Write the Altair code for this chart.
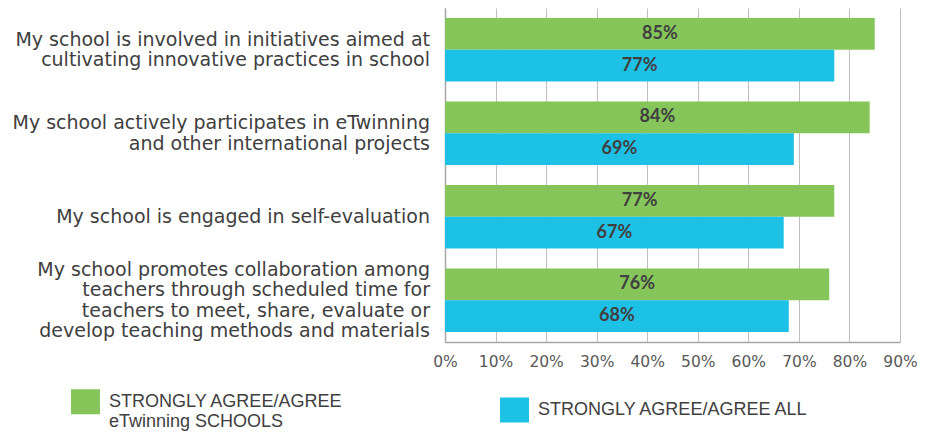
import altair as alt
import pandas as pd

categories = [
    "My school is involved in initiatives aimed at|cultivating innovative practices in school",
    "My school actively participates in eTwinning|and other international projects",
    "My school is engaged in self-evaluation",
    "My school promotes collaboration among|teachers through scheduled time for|teachers to meet, share, evaluate or|develop teaching methods and materials",
]
series = ["STRONGLY AGREE/AGREE|eTwinning SCHOOLS", "STRONGLY AGREE/AGREE ALL"]
etwinning_schools = [85, 84, 77, 76]
all_schools = [77, 69, 67, 68]
colors = ["#85C55A", "#1EC1E6"]
x_ticks = [0, 0.1, 0.2, 0.3, 0.4, 0.5, 0.6, 0.7, 0.8, 0.9]

rows = []
for i, c in enumerate(categories):
    rows.append({"category": c, "series": series[0], "value": etwinning_schools[i] / 100})
    rows.append({"category": c, "series": series[1], "value": all_schools[i] / 100})
df = pd.DataFrame(rows)

label_font = "DejaVu Sans"

y_enc = alt.Y(
    "category:N",
    sort=categories,
    scale=alt.Scale(paddingInner=0.238, paddingOuter=0.119),
    axis=alt.Axis(
        title=None,
        labels=False,
        ticks=False,
        domainColor="#A6A6A6",
        domainWidth=1.5,
        grid=False,
    ),
)

base = alt.Chart(df).encode(
    y=y_enc,
    yOffset=alt.YOffset("series:N", sort=series, scale=alt.Scale(paddingInner=0, paddingOuter=0)),
)

bars = base.mark_bar().encode(
    x=alt.X(
        "value:Q",
        scale=alt.Scale(domain=[0, 0.9], nice=False),
        axis=alt.Axis(
            title=None,
            format=".0%",
            values=x_ticks,
            grid=True,
            gridColor="#BFBFBF",
            gridWidth=1,
            ticks=False,
            domainColor="#A6A6A6",
            domainWidth=1.5,
            labelFont=label_font,
            labelFontSize=15.5,
            labelColor="#595959",
            labelPadding=12,
            labelOverlap=False,
            labelFlush=False,
        ),
    ),
    color=alt.Color(
        "series:N",
        sort=series,
        scale=alt.Scale(domain=series, range=colors),
        legend=alt.Legend(
            title=None,
            orient="none",
            legendX=-372,
            legendY=381,
            direction="horizontal",
            columns=2,
            columnPadding=157,
            labelExpr="split(datum.label, '|')",
            labelFont="Liberation Sans",
            labelFontSize=18,
            labelColor="#404040",
            labelLimit=400,
            labelOffset=11,
            symbolType="M-1.16,-1H1.16V1H-1.16Z",
            symbolSize=625,
            symbolStrokeWidth=0,
            symbolOpacity=1,
            padding=0,
        ),
    ),
)

values_text = base.mark_text(
    font="Lato", fontWeight="bold", fontSize=18, color="#404040"
).transform_calculate(mid="datum.value / 2").encode(
    x=alt.X("mid:Q"),
    text=alt.Text("value:Q", format=".0%"),
)

cat_labels = (
    alt.Chart(df)
    .transform_filter(alt.datum.series == series[1])
    .mark_text(
        align="right",
        baseline="middle",
        font=label_font,
        fontSize=19,
        color="#404040",
        lineBreak="|",
        lineHeight=20.5,
        dy={"expr": "-(length(split(datum.category, '|')) - 1) * 10.25"},
    )
    .encode(
        y=y_enc,
        x=alt.value(-15),
        text="category:N",
    )
)

chart = (
    alt.layer(bars, values_text, cat_labels)
    .properties(
        width=455,
        height=334,
        autosize=alt.AutoSizeParams(type="none"),
        padding={"left": 437, "top": 0, "right": 22, "bottom": 95},
    )
    .configure_view(stroke=None)
)

chart.save("out.html", embed_options={"renderer": "svg", "actions": False})
